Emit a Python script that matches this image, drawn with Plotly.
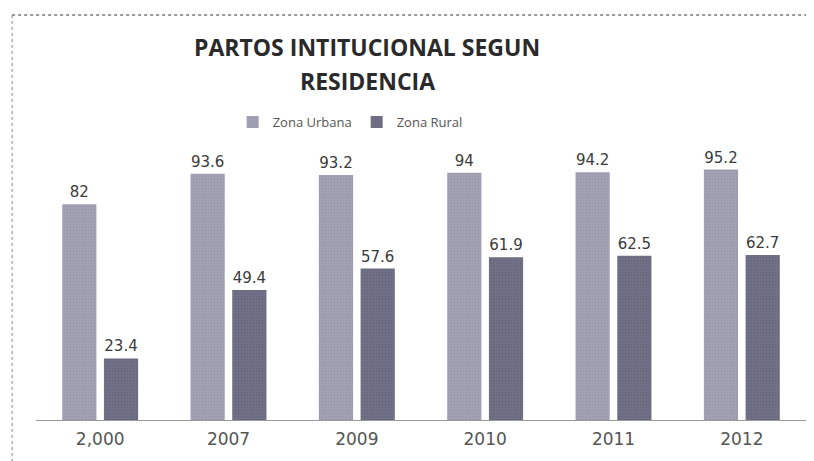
import plotly.graph_objects as go

categories = ["2,000", "2007", "2009", "2010", "2011", "2012"]
urbana = [82, 93.6, 93.2, 94, 94.2, 95.2]
rural = [23.4, 49.4, 57.6, 61.9, 62.5, 62.7]
title_line1 = "PARTOS INTITUCIONAL SEGUN"
title_line2 = "RESIDENCIA"

fig = go.Figure()
fig.add_trace(go.Bar(
    name="Zona Urbana", x=categories, y=urbana,
    marker=dict(color="#a2a2b4", line=dict(width=0),
                pattern=dict(shape=".", size=3, solidity=0.25, fgcolor="#86869a")),
    text=[f"{v:g}" for v in urbana], textposition="outside",
    textfont=dict(family="DejaVu Sans", size=15, color="#3a3a3a"),
    cliponaxis=False,
))
fig.add_trace(go.Bar(
    name="Zona Rural", x=categories, y=rural,
    marker=dict(color="#707086", line=dict(width=0),
                pattern=dict(shape=".", size=3, solidity=0.25, fgcolor="#55556a")),
    text=[f"{v:g}" for v in rural], textposition="outside",
    textfont=dict(family="DejaVu Sans", size=15, color="#3a3a3a"),
    cliponaxis=False,
))

fig.update_layout(
    width=814, height=461,
    margin=dict(l=28, r=16, t=149, b=49),
    paper_bgcolor="white", plot_bgcolor="white",
    barmode="group", bargap=0.35, bargroupgap=0.18,
    legend=dict(orientation="h", x=0.408, xanchor="center", y=1.133, yanchor="middle",
                font=dict(family="Open Sans", size=13, color="#555555"),
                itemwidth=30),
    showlegend=True,
    annotations=[
        dict(text="<b>" + title_line1 + "</b>", xref="paper", yref="paper", x=0.43, y=1.418,
             xanchor="center", yanchor="middle", showarrow=False,
             font=dict(family="Open Sans", size=23, color="#2a2a2a")),
        dict(text="<b>" + title_line2 + "</b>", xref="paper", yref="paper", x=0.43, y=1.289,
             xanchor="center", yanchor="middle", showarrow=False,
             font=dict(family="Open Sans", size=23, color="#2a2a2a")),
    ],
    shapes=[
        dict(type="line", xref="paper", yref="paper", x0=-0.031, x1=-0.031, y0=1.54, y1=-0.2,
             line=dict(color="#888888", width=1, dash="dot")),
        dict(type="line", xref="paper", yref="paper", x0=-0.031, x1=1.03, y0=1.54, y1=1.54,
             line=dict(color="#777777", width=1.5, dash="dot")),
    ],
)
fig.update_xaxes(showline=True, linecolor="#9a9a9a", linewidth=1,
                 ticks="outside", ticklen=4, tickcolor="rgba(0,0,0,0)",
                 tickfont=dict(family="DejaVu Sans", size=17, color="#555555"),
                 showgrid=False)
fig.update_yaxes(range=[0, 100], visible=False, showgrid=False)

fig.write_html("out.html")
